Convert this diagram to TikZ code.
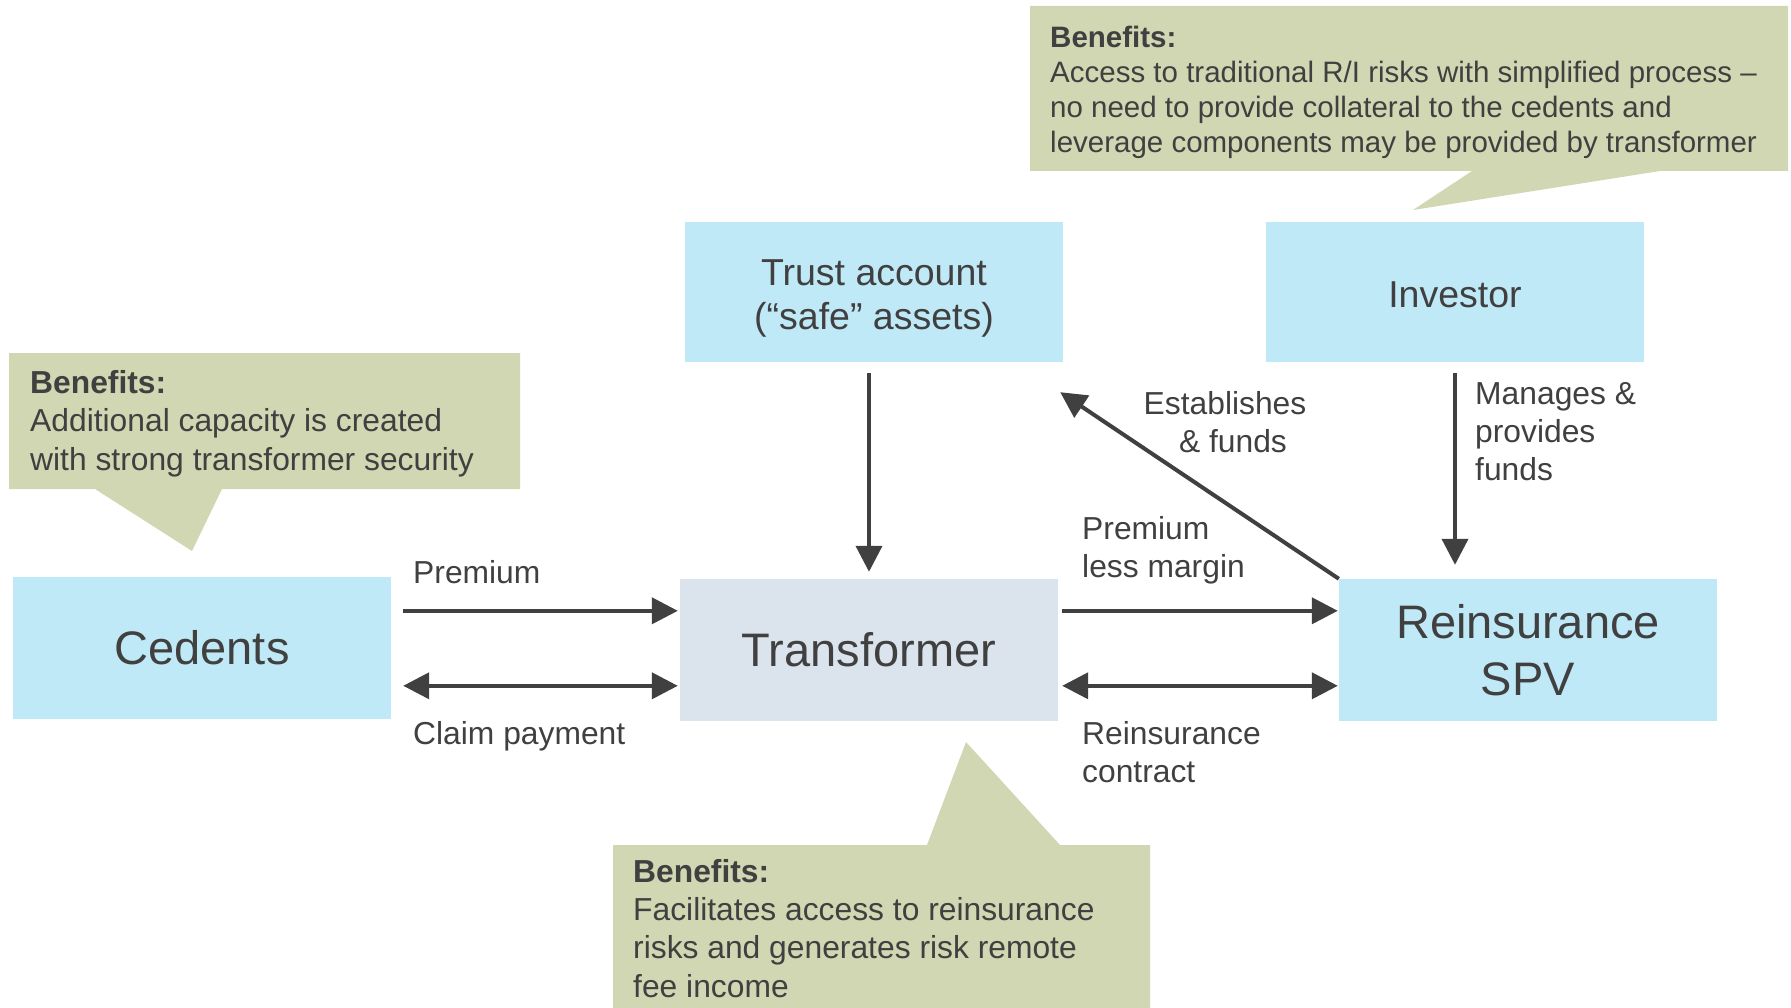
\documentclass[tikz,border=0pt]{standalone}
\usepackage{fontspec}
\setmainfont{Liberation Sans}
\usetikzlibrary{arrows.meta,calc}

\definecolor{boxblue}{RGB}{191,233,246}
\definecolor{boxgrey}{RGB}{219,227,237}
\definecolor{notegreen}{RGB}{208,215,178}
\definecolor{ink}{RGB}{64,64,64}

% sets its text a little lower without changing the space it takes
\newcommand{\sinktext}[2]{\raisebox{-#1}[\height][\depth]{\begin{tabular}{@{}c@{}}#2\end{tabular}}}

\begin{document}
\begin{tikzpicture}[x=1pt,y=-1pt,
  party/.style={rectangle, inner sep=0pt, text=ink, align=center,
                minimum width=378pt, minimum height=142pt},
  bigtext/.style={font={\fontsize{47}{57}\selectfont}},
  midtext/.style={font={\fontsize{37.5}{44}\selectfont}},
  flowlabel/.style={inner sep=0pt, text=ink, align=left, anchor=base west,
                    font={\fontsize{31.8}{38}\selectfont}},
  notetext/.style={inner sep=0pt, text=ink, align=left, anchor=base west,
                   font={\fontsize{31.8}{38.3}\selectfont}},
  note/.style={fill=notegreen, draw=none},
  flow/.style={draw=ink, line width=4pt, -{Triangle[length=26pt,width=26pt]}},
  twoway/.style={draw=ink, line width=4pt,
                 {Triangle[length=26pt,width=26pt]}-{Triangle[length=26pt,width=26pt]}}
]
\useasboundingbox (0,0) rectangle (1791,1008);

% callout shapes
\path[note] (9,353) -- (520,353) -- (520,489) -- (222,489) -- (192,551)
            -- (95,489) -- (9,489) -- cycle;
\path[note] (1030,6) -- (1788,6) -- (1788,171) -- (1660,171) -- (1413,210)
            -- (1472,171) -- (1030,171) -- cycle;
\path[note] (613,845) -- (927,845) -- (966,742) -- (1060,845) -- (1150,845)
            -- (1150,1008) -- (613,1008) -- cycle;

% parties
\node[party, bigtext, fill=boxblue] (ced) at (202,648) {Cedents};
\node[party, bigtext, fill=boxgrey] (tra) at (869,650) {Transformer};
\node[party, bigtext, fill=boxblue] (spv) at (1528,650) {Reinsurance\\SPV};
\node[party, midtext, fill=boxblue, minimum height=140pt] (trust) at (874,292)
     {\sinktext{6.5pt}{Trust account\\(“safe” assets)}};
\node[party, midtext, fill=boxblue, minimum height=140pt] (inv) at (1455,292)
     {\sinktext{6.5pt}{Investor}};

% flows
\draw[flow] ($(ced.north east)+(12,34)$) -- ($(tra.north west)+(-2,32)$);
\draw[twoway] ($(ced.north east)+(12,109)$) -- ($(tra.north west)+(-2,107)$);
\draw[flow] ($(tra.north east)+(4,32)$) -- ($(spv.north west)+(-1,32)$);
\draw[twoway] ($(tra.north east)+(4,107)$) -- ($(spv.north west)+(-1,107)$);
\draw[flow] ($(trust.south)+(-5,11)$) -- ($(tra.north)+(0,-7)$);
\draw[flow] ($(inv.south)+(0,11)$) -- ($(inv.south |- spv.north)+(0,-14)$);
\coordinate (trustin) at ($(trust.south east)+(-3,30)$);
\draw[flow] (spv.north west) -- (trustin);

% flow labels (multi-line labels are placed by the baseline of their last line)
\node[flowlabel] (lpremium) at (413,583) {Premium};
\node[flowlabel] (lclaim) at (413,744) {Claim payment};
\node[flowlabel] (lmargin) at (1082,577) {Premium\\less margin};
\node[flowlabel] (lcontract) at (1082,782) {Reinsurance\\contract};
\node[flowlabel, align=center, anchor=base] (lfunds) at (1225,452)
     {Establishes\\\hspace*{16pt}\& funds};
\node[flowlabel] (lmanages) at (1475,480) {Manages \&\\provides\\funds};

% callout texts
\node[notetext] (ncedents) at (30,470)
     {\textbf{Benefits:}\\Additional capacity is created\\with strong transformer security};
\node[notetext, font={\fontsize{29.5}{35.3}\selectfont}] (ninvestor) at (1050,153)
     {\textbf{Benefits:}\\Access to traditional R/I risks with simplified process –\\no need to provide collateral to the cedents and\\leverage components may be provided by transformer};
\node[notetext] (ntransformer) at (633,997)
     {\textbf{Benefits:}\\Facilitates access to reinsurance\\risks and generates risk remote\\fee income};
\end{tikzpicture}
\end{document}
